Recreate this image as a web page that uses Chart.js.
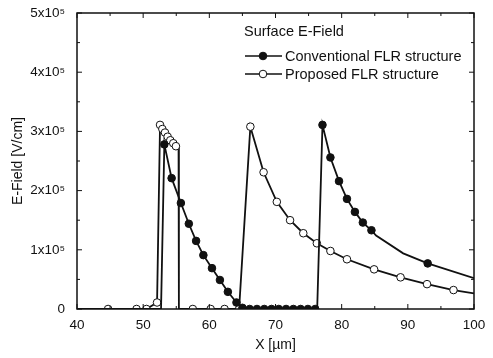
<!DOCTYPE html>
<html>
<head>
<meta charset="utf-8">
<script src="https://cdn.jsdelivr.net/npm/chart.js@4/dist/chart.umd.min.js"></script>
<style>
  html, body { margin: 0; padding: 0; background: #fff; }
  #wrap { width: 493px; height: 358px; position: relative; }
</style>
</head>
<body>
<div id="wrap"><canvas id="efield"></canvas></div>
<script>
// surface E-field along the device (V/cm)
const convX = [40, 52.7, 53.2, 54.3, 55.7, 56.9, 58.0, 59.1, 60.4, 61.6, 62.8, 64.1, 65.0,
  66.1, 67.2, 68.3, 69.4, 70.5, 71.6, 72.7, 73.8, 74.9, 76.0, 76.3,
  77.1, 78.3, 79.6, 80.8, 82.0, 83.2, 84.5, 85.2, 89.3, 93.0, 100];
const convY = [0, 0, 2.78e5, 2.21e5, 1.79e5, 1.44e5, 1.15e5, 0.91e5, 0.69e5, 0.49e5, 0.29e5, 0.11e5, 0.02e5,
  0, 0, 0, 0, 0, 0, 0, 0, 0, 0, 0,
  3.11e5, 2.56e5, 2.16e5, 1.86e5, 1.64e5, 1.46e5, 1.33e5, 1.24e5, 0.94e5, 0.77e5, 0.52e5];

const propX = [40, 44.7, 49.0, 50.5, 52.1, 52.55, 52.9, 53.3, 53.7, 54.1, 54.55, 54.95, 55.35, 55.4,
  57.5, 60.2, 62.3, 64.5, 66.2, 68.2, 70.2, 72.2, 74.2, 76.25, 78.3, 80.8, 84.9, 88.9, 92.9, 96.9, 100];
const propY = [0, 0, 0, 0, 0.11e5, 3.11e5, 3.04e5, 2.98e5, 2.91e5, 2.85e5, 2.80e5, 2.75e5, 2.74e5, 0,
  0, 0, 0, 0, 3.08e5, 2.31e5, 1.81e5, 1.50e5, 1.28e5, 1.11e5, 0.98e5, 0.84e5, 0.67e5, 0.535e5, 0.42e5, 0.32e5, 0.265e5];

// line vertices drawn without a symbol
const convPlain = [40, 52.7, 76.3, 85.2, 89.3, 100];
const propPlain = [40, 55.35, 55.4, 100];

const seriesNames = ['Conventional FLR structure', 'Proposed FLR structure'];
const legendTitle = 'Surface E-Field';
const xTicks = [40, 50, 60, 70, 80, 90, 100];
const yTicks = [0, 1e5, 2e5, 3e5, 4e5, 5e5];

const FONT = '"Liberation Sans", Arial, Helvetica, sans-serif';
const INK = '#111';

function pts(xs, ys) {
  return xs.map((x, i) => ({ x: x, y: ys[i] }));
}

function yLabel(v) {
  if (v === 0) return '0';
  return (v / 1e5) + 'x10\u2075';
}

// frame, inward ticks and legend
const framePlugin = {
  id: 'frame',
  afterDraw(chart) {
    const ctx = chart.ctx;
    const a = chart.chartArea;
    const xs = chart.scales.x, ys = chart.scales.y;
    ctx.save();
    ctx.strokeStyle = INK;
    ctx.lineWidth = 1.5;
    ctx.strokeRect(a.left, a.top, a.right - a.left, a.bottom - a.top);

    ctx.lineWidth = 1;
    for (let v = 40; v <= 100; v += 5) {
      const len = v % 10 === 0 ? 5 : 3;
      const px = xs.getPixelForValue(v);
      ctx.beginPath();
      ctx.moveTo(px, a.bottom); ctx.lineTo(px, a.bottom - len);
      ctx.moveTo(px, a.top); ctx.lineTo(px, a.top + len);
      ctx.stroke();
    }
    for (let v = 0; v <= 5e5; v += 0.5e5) {
      const len = v % 1e5 === 0 ? 5 : 3;
      const py = ys.getPixelForValue(v);
      ctx.beginPath();
      ctx.moveTo(a.left, py); ctx.lineTo(a.left + len, py);
      ctx.moveTo(a.right, py); ctx.lineTo(a.right - len, py);
      ctx.stroke();
    }

    // legend
    ctx.fillStyle = INK;
    ctx.font = '14.5px ' + FONT;
    ctx.textBaseline = 'middle';
    ctx.textAlign = 'left';
    ctx.fillText(legendTitle, 244, 32);
    const rows = [56, 74];
    chart.data.datasets.forEach((ds, i) => {
      const y = rows[i];
      ctx.strokeStyle = INK;
      ctx.lineWidth = 1.6;
      ctx.beginPath();
      ctx.moveTo(245, y); ctx.lineTo(282, y);
      ctx.stroke();
      ctx.beginPath();
      ctx.arc(263, y, 3.8, 0, Math.PI * 2);
      ctx.fillStyle = ds.pointBackgroundColor;
      ctx.fill();
      ctx.lineWidth = 1;
      ctx.stroke();
      ctx.fillStyle = INK;
      ctx.fillText(ds.label, 285, y + 1);
    });
    ctx.restore();
  }
};

function radiusFor(plain) {
  return c => (plain.includes(c.raw.x) ? 0 : 3.8);
}

const chart = new Chart(document.getElementById('efield').getContext('2d'), {
  type: 'line',
  data: {
    datasets: [{
      label: seriesNames[0],
      data: pts(convX, convY),
      borderColor: INK,
      borderWidth: 1.8,
      pointBackgroundColor: INK,
      pointBorderColor: INK,
      pointBorderWidth: 1,
      pointRadius: radiusFor(convPlain),
      tension: 0
    }, {
      label: seriesNames[1],
      data: pts(propX, propY),
      borderColor: INK,
      borderWidth: 1.8,
      pointBackgroundColor: '#fff',
      pointBorderColor: INK,
      pointBorderWidth: 1,
      pointRadius: radiusFor(propPlain),
      tension: 0
    }]
  },
  options: {
    responsive: true,
    maintainAspectRatio: false,
    animation: false,
    layout: { padding: { top: 13, right: 19, left: 0, bottom: 0 } },
    scales: {
      x: {
        type: 'linear',
        min: 40, max: 100,
        afterBuildTicks: s => { s.ticks = xTicks.map(v => ({ value: v })); },
        afterFit: s => { s.height = 49; },
        grid: { display: false },
        border: { display: false },
        ticks: { color: INK, font: { family: FONT, size: 13.5 }, padding: 0, maxRotation: 0 },
        title: {
          display: true, text: 'X [\u00b5m]', color: INK,
          font: { family: FONT, size: 14 }, padding: { top: 4 }
        }
      },
      y: {
        min: 0, max: 5e5,
        afterBuildTicks: s => { s.ticks = yTicks.map(v => ({ value: v })); },
        afterFit: s => { s.width = 77; },
        grid: { display: false },
        border: { display: false },
        ticks: { color: INK, font: { family: FONT, size: 13.5 }, padding: 4, callback: yLabel },
        title: {
          display: true, text: 'E-Field [V/cm]', color: INK,
          font: { family: FONT, size: 14 }, padding: { top: 10 }
        }
      }
    },
    plugins: {
      legend: { display: false },
      tooltip: { enabled: false }
    }
  },
  plugins: [framePlugin]
});
</script>
</body>
</html>
